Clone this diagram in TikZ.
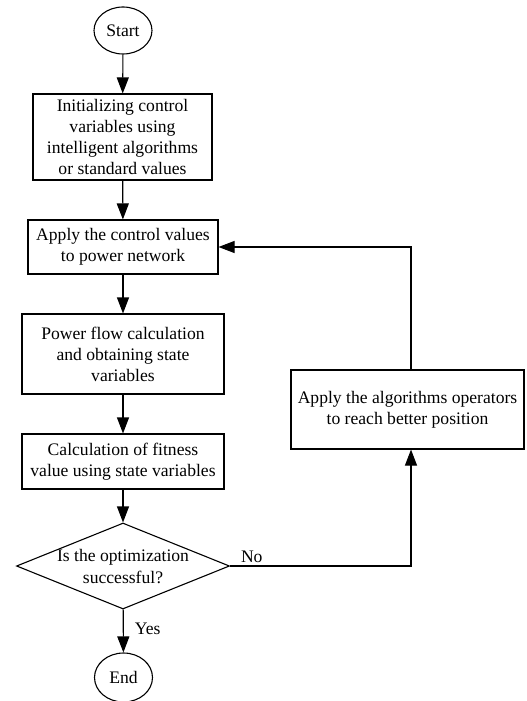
\documentclass[tikz,border=0pt]{standalone}
\usepackage{fontspec}
\setmainfont{Liberation Serif}
\usetikzlibrary{shapes.geometric,arrows.meta}
\begin{document}
\begin{tikzpicture}[x=1pt,y=-1pt,
  every node/.style={font=\fontsize{17.6}{21}\selectfont, inner sep=0pt, align=center},
  box/.style={draw, rectangle, line width=1.1pt},
  term/.style={draw, ellipse, line width=1.1pt, minimum width=58pt, minimum height=47pt},
  decision/.style={draw, diamond, line width=1.1pt, minimum width=213pt, minimum height=86pt},
  flow/.style={line width=1.1pt, -{Triangle[length=16pt,width=12pt]}},
  line/.style={line width=1.1pt}]
  \useasboundingbox (0,0) rectangle (527,701);
  \clip (0,0) rectangle (527,701);

  % main column
  \node[term] (start) at (123,30.5) {Start};
  \node[box, minimum width=179pt, minimum height=86pt] (init) at (122.5,137)
    {Initializing control\\variables using\\intelligent algorithms\\or standard values};
  \node[box, minimum width=190pt, minimum height=54pt] (apply) at (123,247)
    {Apply the control values\\to power network};
  \node[box, minimum width=202pt, minimum height=80pt] (pf) at (123,354)
    {Power flow calculation\\and obtaining state\\variables};
  \node[box, minimum width=202pt, minimum height=55pt] (fit) at (123,461.5)
    {Calculation of fitness\\value using state variables};
  \node[decision] (dec) at (123,566) {};
  \node[font=\fontsize{17.6}{22}\selectfont] at (123,567) {Is the optimization\\successful?};
  \node[term, minimum height=49pt] (end) at (123.5,677.5) {End};

  % update loop
  \node[box, minimum width=233pt, minimum height=79pt] (ops) at (407.5,409.5)
    {Apply the algorithms operators\\to reach better position};
  \coordinate (turn) at (411,566);

  \draw[flow] (start) -- (init);
  \draw[flow] (init) -- (apply);
  \draw[flow] (apply) -- (pf);
  \draw[flow] (pf) -- (fit);
  \draw[flow] (fit) -- (dec);
  \draw[flow] (dec) -- node[pos=0.45, right=11pt] {Yes} (end);
  \draw[flow] (dec.east) -- node[pos=0.12, above=3pt] {No} (turn) -- (turn |- ops.south);
  \draw[flow] (turn |- ops.north) -- (turn |- apply.east) -- (apply.east);
\end{tikzpicture}
\end{document}
